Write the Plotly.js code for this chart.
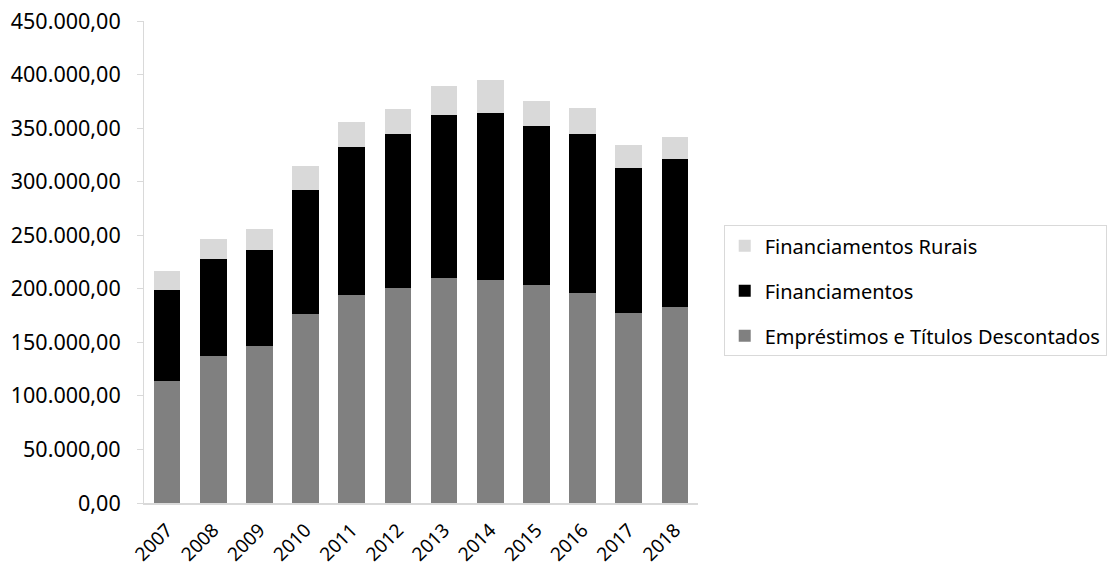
<!DOCTYPE html>
<html>
<head>
<meta charset="utf-8">
<script src="https://cdn.plot.ly/plotly-3.0.1.min.js"></script>
<style>html,body{margin:0;padding:0;background:#fff;}#chart{width:1110px;height:568px;}</style>
</head>
<body>
<div id="chart"></div>
<script>
const years = ['2007','2008','2009','2010','2011','2012','2013','2014','2015','2016','2017','2018'];
const emprestimos = [113500,136800,146700,176400,194100,200900,209700,207900,203500,196300,177300,182600];
const financiamentos = [85300,91000,89200,116100,138000,143700,152600,156300,148600,148600,135800,138900];
const rurais = [17500,18600,20200,22200,23700,23300,26900,30600,23300,23700,21200,20600];

const FONT = 'Noto Sans, Open Sans, sans-serif';
const traces = [
  {type:'bar', name:'Empréstimos e Títulos Descontados', x:years, y:emprestimos, marker:{color:'#808080'}, legendgroup:'a', legendrank:3},
  {type:'bar', name:'Financiamentos', x:years, y:financiamentos, marker:{color:'#000000'}, legendgroup:'b', legendrank:2},
  {type:'bar', name:'Financiamentos Rurais', x:years, y:rurais, marker:{color:'#d9d9d9'}, legendgroup:'c', legendrank:1}
];
const layout = {
  width:1110, height:568,
  margin:{l:144, r:412, t:21, b:65, autoexpand:false},
  barmode:'stack', bargap:0.42,
  separators:',.',
  paper_bgcolor:'#fff', plot_bgcolor:'#fff',
  font:{family:FONT, size:20, color:'#000'},
  xaxis:{type:'category', tickangle:-45, showline:true, linecolor:'#d9d9d9', linewidth:1.5, ticks:'', showgrid:false, tickfont:{size:19}, ticklabelstandoff:7},
  yaxis:{range:[0,450000], dtick:50000, tickformat:',.2f', showline:true, linecolor:'#d9d9d9', linewidth:1, ticks:'outside', ticklen:6, tickcolor:'#d9d9d9', showgrid:false, zeroline:false, tickfont:{size:21.5}, ticklabelstandoff:12},
  legend:{xref:'container', yref:'container', x:0.652, xanchor:'left', y:0.488, yanchor:'middle', traceorder:'grouped', tracegroupgap:16, bordercolor:'#d9d9d9', borderwidth:1, font:{size:20}, itemwidth:30},
  showlegend:true
};
Plotly.newPlot('chart', traces, layout, {displayModeBar:false, staticPlot:true});
</script>
</body>
</html>
